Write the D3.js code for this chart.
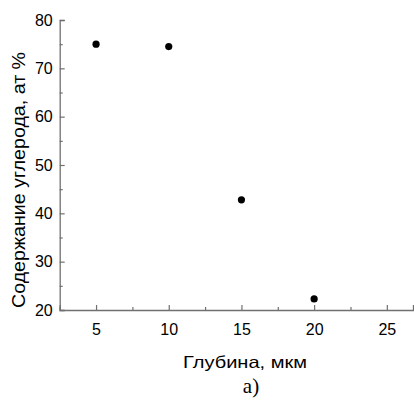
<!DOCTYPE html>
<html>
<head>
<meta charset="utf-8">
<script src="https://cdn.jsdelivr.net/npm/d3@7"></script>
<style>
  html, body { margin: 0; padding: 0; background: #fff; }
  svg { display: block; }
  text { font-family: "Liberation Sans", Arial, sans-serif; fill: #000; }
</style>
</head>
<body>
<script>
// Depth (µm) and carbon content (at. %)
const depths = [5, 10, 15, 20];
const carbon = [75, 74.5, 42.8, 22.3];
const xTicks = [5, 10, 15, 20, 25];
const xMinorTicks = [2.5, 7.5, 12.5, 17.5, 22.5];
const yTicks = [20, 30, 40, 50, 60, 70, 80];
const yMinorTicks = [25, 35, 45, 55, 65, 75];
const xTitle = "Глубина, мкм";
const yTitle = "Содержание углерода, ат %";
const caption = "а)";

const W = 414, H = 400;
const axisColor = "#707070";

const svg = d3.select("body").append("svg")
  .attr("width", W).attr("height", H);

const x = d3.scaleLinear().domain([2.5, 26.8]).range([59.7, 413]);
const y = d3.scaleLinear().domain([20, 80]).range([310, 20]);

const x0 = x.range()[0], y0 = y.range()[0];

// bottom axis: ticks point inward (up), labels below
const gx = svg.append("g").attr("transform", `translate(0,${y0})`);
gx.call(d3.axisBottom(x).tickValues(xTicks).tickSize(-5).tickPadding(14).tickFormat(d3.format("d")));
gx.append("g").call(d3.axisBottom(x).tickValues(xMinorTicks).tickSize(-3).tickFormat(""))
  .call(g => g.select(".domain").remove());

// left axis: ticks point inward (right), labels left
const gy = svg.append("g").attr("transform", `translate(${x0},0)`);
gy.call(d3.axisLeft(y).tickValues(yTicks).tickSize(-5).tickPadding(7).tickFormat(d3.format("d")));
gy.append("g").call(d3.axisLeft(y).tickValues(yMinorTicks).tickSize(-3).tickFormat(""))
  .call(g => g.select(".domain").remove());

svg.selectAll(".domain").attr("stroke", axisColor).attr("stroke-width", 1.3);
svg.selectAll(".tick line").attr("stroke", axisColor).attr("stroke-width", 1.2);
svg.selectAll(".tick text")
  .attr("font-family", "'Liberation Sans', Arial, sans-serif")
  .attr("font-size", 16).attr("fill", "#000");

// data points
svg.append("g").selectAll("circle")
  .data(depths.map((d, i) => ({ d, c: carbon[i] })))
  .join("circle")
  .attr("cx", p => x(p.d))
  .attr("cy", p => y(p.c))
  .attr("r", 3.6)
  .attr("fill", "#000");

// axis titles
svg.append("text")
  .attr("x", 245).attr("y", 368)
  .attr("text-anchor", "middle")
  .attr("font-size", 16.5)
  .attr("textLength", 124)
  .attr("lengthAdjust", "spacingAndGlyphs")
  .text(xTitle);

svg.append("text")
  .attr("transform", `translate(25,180) rotate(-90)`)
  .attr("text-anchor", "middle")
  .attr("font-size", 18)
  .attr("textLength", 256)
  .attr("lengthAdjust", "spacingAndGlyphs")
  .text(yTitle);

svg.append("text")
  .attr("x", 251).attr("y", 393)
  .attr("text-anchor", "middle")
  .style("font-family", "'Liberation Serif', 'Times New Roman', serif")
  .attr("font-size", 21)
  .text(caption);
</script>
</body>
</html>
